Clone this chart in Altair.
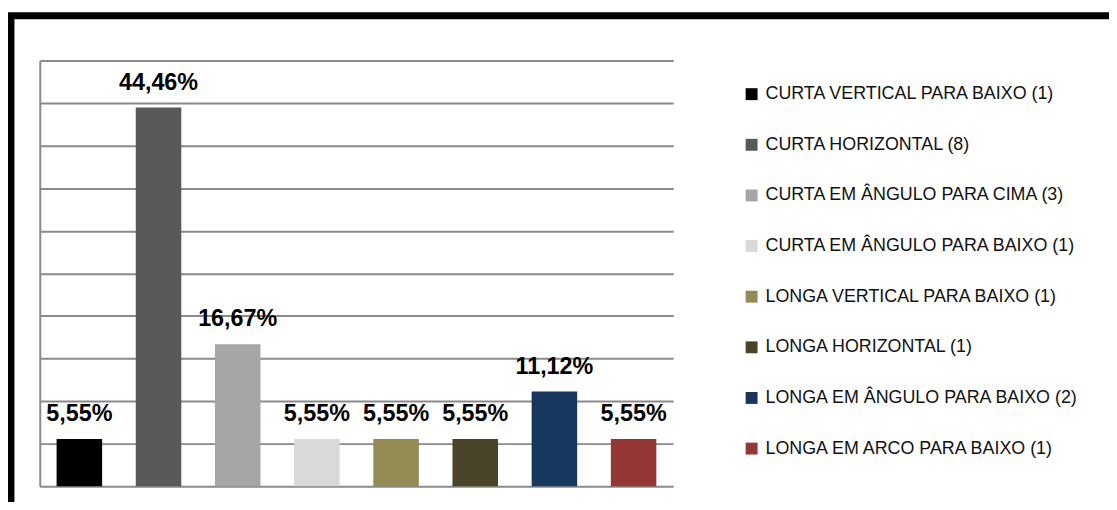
import altair as alt
import pandas as pd

categories = [
    "CURTA VERTICAL PARA BAIXO (1)",
    "CURTA HORIZONTAL (8)",
    "CURTA EM ÂNGULO PARA CIMA (3)",
    "CURTA EM ÂNGULO PARA BAIXO (1)",
    "LONGA VERTICAL PARA BAIXO (1)",
    "LONGA HORIZONTAL (1)",
    "LONGA EM ÂNGULO PARA BAIXO (2)",
    "LONGA EM ARCO PARA BAIXO (1)",
]
values = [5.55, 44.46, 16.67, 5.55, 5.55, 5.55, 11.12, 5.55]
labels = ["5,55%", "44,46%", "16,67%", "5,55%", "5,55%", "5,55%", "11,12%", "5,55%"]
colors = ["#000000", "#595959", "#a6a6a6", "#d9d9d9", "#948a54", "#4a452a", "#17375e", "#953735"]
y_ticks = [0, 5, 10, 15, 20, 25, 30, 35, 40, 45, 50]

df = pd.DataFrame({"cat": categories, "value": values, "label": labels})

GRID = "#8a8a8a"

x_enc = alt.X(
    "cat:N",
    sort=categories,
    axis=None,
    scale=alt.Scale(range=[29, 667], paddingInner=0.425, paddingOuter=0.2125),
)
y_enc = alt.Y(
    "value:Q",
    scale=alt.Scale(domain=[0, 50], range=[474, 45], nice=False, zero=True),
    axis=alt.Axis(
        values=y_ticks,
        labels=False,
        ticks=False,
        title=None,
        domain=True,
        domainColor=GRID,
        domainWidth=2,
        grid=True,
        gridColor=GRID,
        gridWidth=2,
        offset=-29,
    ),
)

bars = alt.Chart(df).mark_bar().encode(
    x=x_enc,
    y=y_enc,
    color=alt.Color(
        "cat:N",
        sort=categories,
        scale=alt.Scale(domain=categories, range=colors),
        legend=alt.Legend(
            orient="none",
            legendX=737,
            legendY=70,
            title=None,
            symbolType="square",
            symbolSize=144,
            symbolStrokeWidth=0,
            symbolOpacity=1,
            labelFont="Liberation Sans",
            labelFontSize=18,
            labelColor="#111111",
            labelOffset=5,
            labelLimit=500,
            rowPadding=33,
            padding=0,
        ),
    ),
)

text = alt.Chart(df).mark_text(
    font="Liberation Sans",
    fontWeight="bold",
    fontSize=23.5,
    color="#000000",
    align="center",
    baseline="alphabetic",
    dy=-18,
).encode(x=x_enc, y=y_enc, text="label:N")

chart = (
    alt.layer(bars, text)
    .properties(
        width=1114,
        height=500,
        autosize="none",
        padding={"left": 3, "top": 6, "right": -8, "bottom": -12},
        background="white",
    )
    .configure_view(stroke="black", strokeWidth=7, fill="white")
)

chart.save("out.html", embed_options={"renderer": "svg", "actions": False})
